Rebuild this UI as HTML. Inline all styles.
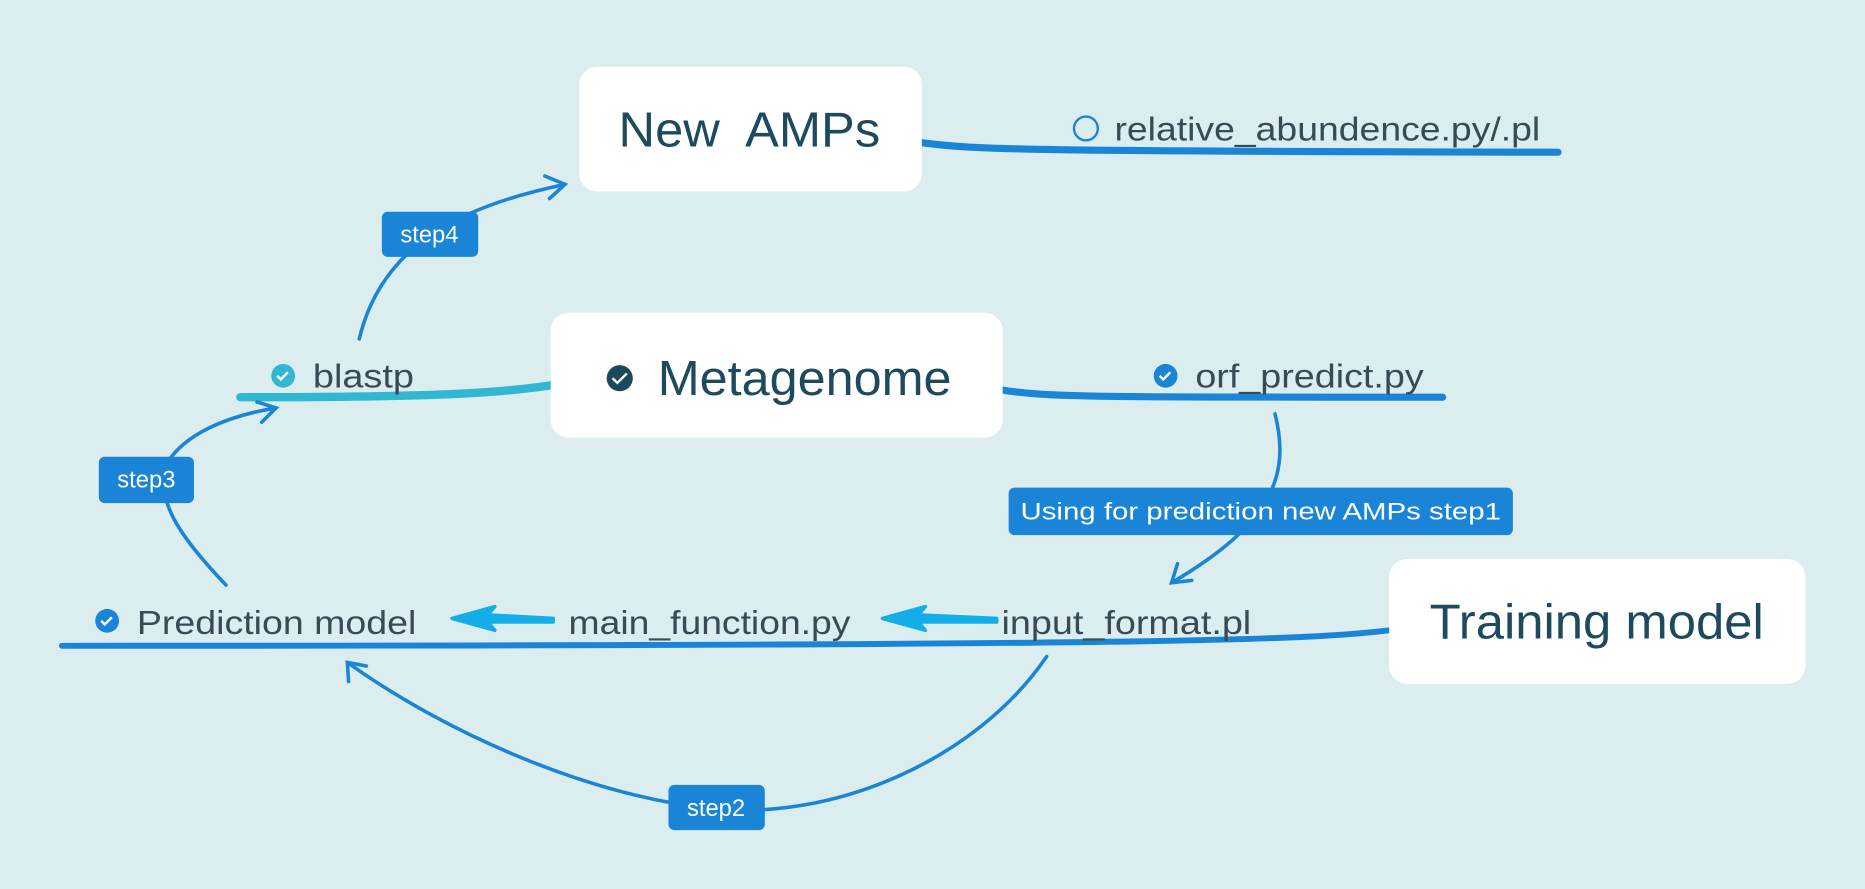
<!DOCTYPE html>
<html><head><meta charset="utf-8"><style>
html,body{margin:0;padding:0;background:#dcedf0;}
svg{display:block}
text{font-family:"Liberation Sans",sans-serif;}
</style></head><body>
<svg width="1865" height="889" viewBox="0 0 1568 747.5" xmlns="http://www.w3.org/2000/svg">
<rect width="1568" height="748" fill="#dcedf0"/>
<path d="M775,120 C820,126 860,127 1310,128" stroke="#1a85d6" stroke-width="6" fill="none" stroke-linecap="round"/>
<path d="M843,328 C880,334 920,334 1213,334" stroke="#1a85d6" stroke-width="6" fill="none" stroke-linecap="round"/>
<path d="M463,324 C420,330 380,334 202,334" stroke="#2fb8cf" stroke-width="7" fill="none" stroke-linecap="round"/>
<path d="M1168,530 C1100,538 1000,543 52,543" stroke="#1a85d6" stroke-width="5" fill="none" stroke-linecap="round"/>
<rect x="487" y="56" width="288" height="105" rx="15" fill="#fff"/>
<text x="520" y="123" font-size="41" fill="#1e4a5e" textLength="220" lengthAdjust="spacingAndGlyphs" xml:space="preserve">New  AMPs</text>
<rect x="463" y="263" width="380" height="105" rx="15" fill="#fff"/>
<circle cx="521" cy="318" r="11" fill="#1c4a5c"/>
<path d="M515,318 l4,4 l8,-8" stroke="#fff" stroke-width="2" fill="none"/>
<text x="553" y="332" font-size="41" fill="#1e4a5e" textLength="247" lengthAdjust="spacingAndGlyphs">Metagenome</text>
<rect x="1168" y="470" width="350" height="105" rx="15" fill="#fff"/>
<text x="1202" y="537" font-size="41" fill="#1e4a5e" textLength="281" lengthAdjust="spacingAndGlyphs">Training model</text>
<circle cx="913" cy="108" r="10" fill="none" stroke="#1a85d6" stroke-width="2"/>
<text x="937" y="118" font-size="28" fill="#3a4a55" textLength="358" lengthAdjust="spacingAndGlyphs">relative_abundence.py/.pl</text>
<circle cx="238" cy="316" r="10" fill="#2fb8cf"/>
<path d="M233,316 l3,3 l6,-6" stroke="#fff" stroke-width="2" fill="none"/>
<text x="263" y="326" font-size="28" fill="#3a4a55" textLength="85" lengthAdjust="spacingAndGlyphs">blastp</text>
<circle cx="980" cy="316" r="10" fill="#1a85d6"/>
<path d="M975,316 l3,3 l6,-6" stroke="#fff" stroke-width="2" fill="none"/>
<text x="1005" y="326" font-size="28" fill="#3a4a55" textLength="192" lengthAdjust="spacingAndGlyphs">orf_predict.py</text>
<circle cx="90" cy="522" r="10" fill="#1a85d6"/>
<path d="M85,522 l3,3 l6,-6" stroke="#fff" stroke-width="2" fill="none"/>
<text x="115" y="533" font-size="28" fill="#3a4a55" textLength="235" lengthAdjust="spacingAndGlyphs">Prediction model</text>
<text x="478" y="533" font-size="28" fill="#3a4a55" textLength="237" lengthAdjust="spacingAndGlyphs">main_function.py</text>
<text x="842" y="533" font-size="28" fill="#3a4a55" textLength="210" lengthAdjust="spacingAndGlyphs">input_format.pl</text>
<path d="M465,520 L410,517 L416,510 L380,520 L416,530 L410,523 L465,523 Z" fill="#13aee8" stroke="#13aee8" stroke-width="3" stroke-linejoin="round"/>
<path d="M838,520 L772,517 L778,510 L742,520 L778,530 L772,523 L838,523 Z" fill="#13aee8" stroke="#13aee8" stroke-width="3" stroke-linejoin="round"/>
<g stroke="#1a85d6" stroke-width="3" fill="none" stroke-linecap="round">
<path d="M190,492 C150,450 130,420 140,390 C155,365 190,350 232,343"/>
<path d="M216,338 L232,343 L220,355"/>
<path d="M302,285 C320,210 380,175 475,155"/>
<path d="M458,148 L475,155 L462,167"/>
<path d="M1072,348 C1085,400 1070,440 985,490"/>
<path d="M990,474 L985,490 L1002,488"/>
<path d="M880,552 C820,640 700,690 600,680 C500,670 380,620 292,557"/>
<path d="M293,573 L292,557 L308,560"/>
</g>
<g font-size="20" fill="#fff">
<rect x="83" y="384" width="80" height="39" rx="5" fill="#1a85d6"/>
<text x="123" y="410" text-anchor="middle">step3</text>
<rect x="321" y="178" width="81" height="38" rx="5" fill="#1a85d6"/>
<text x="361" y="204" text-anchor="middle">step4</text>
<rect x="848" y="410" width="424" height="40" rx="5" fill="#1a85d6"/>
<text x="858" y="437" textLength="404" lengthAdjust="spacingAndGlyphs">Using for prediction new AMPs step1</text>
<rect x="562" y="660" width="81" height="38" rx="5" fill="#1a85d6"/>
<text x="602" y="686" text-anchor="middle">step2</text>
</g>
</svg>
</body></html>
